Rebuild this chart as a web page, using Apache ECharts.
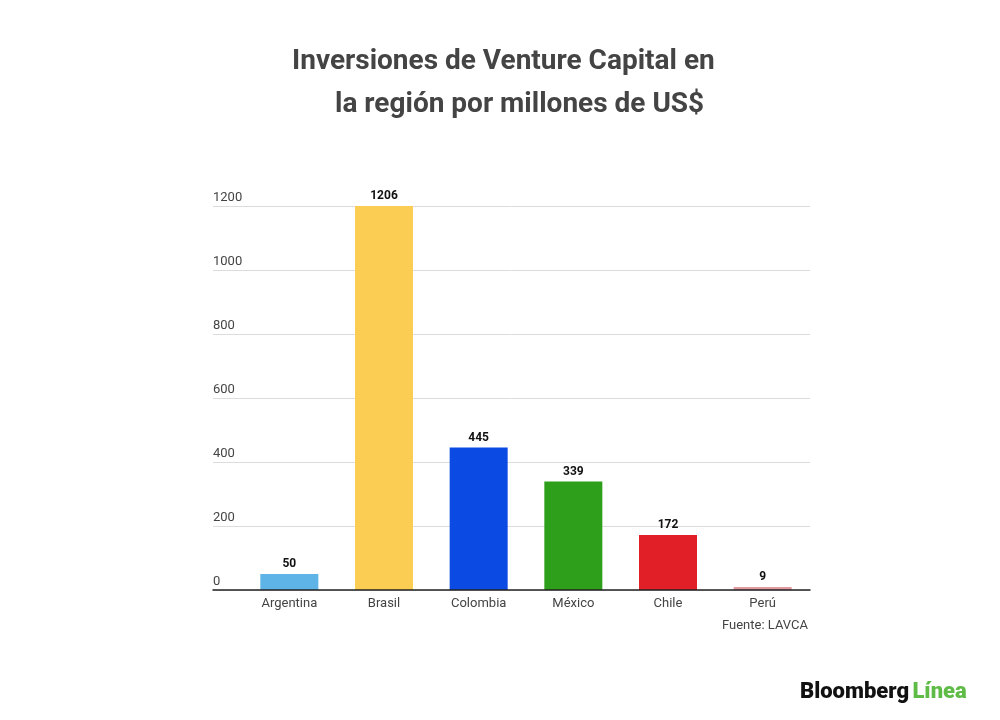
<!DOCTYPE html>
<html lang="es">
<head>
    <meta charset="UTF-8">
    <title>Inversiones de Venture Capital</title>
    <style>
        html, body { margin: 0; padding: 0; background: #fff; }
        #box { width: 1000px; height: 720px; }
    </style>
</head>
<body>
    <div id="box"></div>
    <script src="https://cdn.jsdelivr.net/npm/echarts@6/dist/echarts.min.js"></script>
    <script>
        // datos
        var paises = ['Argentina', 'Brasil', 'Colombia', 'México', 'Chile', 'Perú'];
        var montos = [50, 1206, 445, 339, 172, 9];
        var colores = ['#5eb4e6', '#fccd53', '#0b4be3', '#2e9f1b', '#e11f27', '#e29aa0'];
        var ejeY = { min: 0, max: 1200, interval: 200 };

        var myChart = echarts.init(document.getElementById('box'));

        var option = {
            backgroundColor: '#fff',
            textStyle: { fontFamily: 'Roboto' },
            graphic: [
                {
                    type: 'text', left: 292, top: 48,
                    style: { text: 'Inversiones de Venture Capital en', font: 'bold 28px Roboto', fill: '#444' }
                },
                {
                    type: 'text', left: 335, top: 91,
                    style: { text: 'la región por millones de US$', font: 'bold 28px Roboto', fill: '#444' }
                },
                {
                    type: 'text', right: 192, top: 619,
                    style: { text: 'Fuente: LAVCA', font: '13px Roboto', fill: '#444' }
                },
                {
                    type: 'text', left: 800, top: 681,
                    style: {
                        text: '{a|Bloomberg} {b|Línea}',
                        rich: {
                            a: { font: '900 22px Roboto', fill: '#111' },
                            b: { font: '900 22px Roboto', fill: '#5dbb46' }
                        }
                    }
                }
            ],
            grid: [
                // rejilla de fondo (líneas y eje Y)
                { left: 213, right: 190, top: 206, bottom: 130 },
                // rejilla de las barras
                { left: 242, right: 190, top: 206, bottom: 130 }
            ],
            xAxis: [
                {
                    gridIndex: 0, type: 'category', data: [''],
                    z: 5,
                    axisLine: { lineStyle: { color: '#222', width: 1.5 } },
                    axisTick: { show: false },
                    axisLabel: { show: false }
                },
                {
                    gridIndex: 1, type: 'category', data: paises,
                    axisLine: { show: false },
                    axisTick: { show: false },
                    axisLabel: { color: '#444', fontSize: 13, margin: 7 }
                }
            ],
            yAxis: [
                {
                    gridIndex: 0, type: 'value',
                    min: ejeY.min, max: ejeY.max, interval: ejeY.interval,
                    axisLine: { show: false },
                    axisTick: { show: false },
                    axisLabel: {
                        inside: true, margin: 0, verticalAlign: 'bottom', padding: [0, 0, 2, 0],
                        color: '#444', fontSize: 13,
                        formatter: function (v) { return String(v); }
                    },
                    splitLine: { lineStyle: { color: '#dcdcdc' } }
                },
                {
                    gridIndex: 1, type: 'value',
                    min: ejeY.min, max: ejeY.max, interval: ejeY.interval,
                    show: false,
                    splitLine: { show: false }
                }
            ],
            series: [
                {
                    type: 'bar',
                    xAxisIndex: 1, yAxisIndex: 1,
                    barWidth: 58,
                    data: montos.map(function (v, i) {
                        return { value: v, itemStyle: { color: colores[i] } };
                    }),
                    label: { show: true, position: 'top', distance: 4, color: '#111', fontWeight: 'bold', fontSize: 12 }
                }
            ]
        };

        myChart.setOption(option);

        window.addEventListener('resize', function () {
            myChart.resize();
        });
    </script>
</body>
</html>
